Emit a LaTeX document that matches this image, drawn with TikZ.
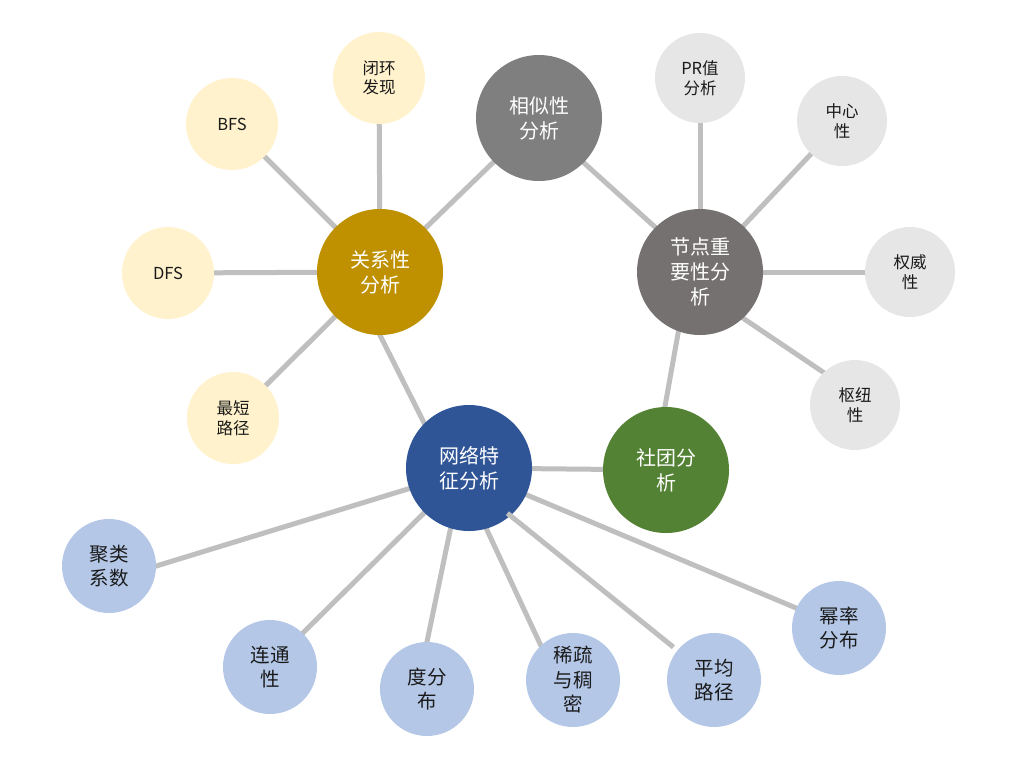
\documentclass[tikz,border=0pt]{standalone}
\usepackage{fontspec}
\setmainfont{Noto Sans CJK SC}
\usetikzlibrary{calc}
\pgfdeclarelayer{background}
\pgfsetlayers{background,main}
\definecolor{cyellow}{HTML}{FFF2CC}
\definecolor{cgold}{HTML}{BF9000}
\definecolor{cgrey}{HTML}{7F7F7F}
\definecolor{cwarm}{HTML}{767171}
\definecolor{clgrey}{HTML}{E7E6E6}
\definecolor{cgreen}{HTML}{548235}
\definecolor{cblue}{HTML}{2F5597}
\definecolor{clblue}{HTML}{B4C7E7}
\definecolor{cedge}{HTML}{BFBFBF}
\definecolor{ctext}{HTML}{1A1A1A}
\tikzset{
  ball/.style={circle, inner sep=0pt, align=center},
  hub/.style={ball, minimum size=126pt, text=white, font=\fontsize{20}{25}\selectfont},
  yleaf/.style={ball, minimum size=92pt, fill=cyellow, text=ctext, font=\fontsize{16.5}{19.5}\selectfont},
  gleaf/.style={ball, minimum size=90pt, fill=clgrey, text=ctext, font=\fontsize{16.5}{19.5}\selectfont},
  bleaf/.style={ball, minimum size=94pt, fill=clblue, text=ctext, font=\fontsize{19.5}{24.5}\selectfont},
  edge/.style={draw=cedge, line width=5pt, shorten <=-2pt, shorten >=-2pt}
}
\begin{document}
\begin{tikzpicture}[x=1pt,y=-1pt]
\useasboundingbox (0,0) rectangle (1016,756);
% hubs
\node[hub, fill=cgrey] (sim) at (539,118) {相似性\\分析};
\node[hub, fill=cgold] (rel) at (380,272) {关系性\\分析};
\node[hub, fill=cwarm] (imp) at (700,272) {节点重\\要性分\\析};
\node[hub, fill=cgreen] (com) at (666,470) {社团分\\析};
\node[hub, fill=cblue] (net) at (469,468) {网络特\\征分析};
% yellow leaves
\node[yleaf] (loop) at (379,78) {闭环\\发现};
\node[yleaf] (bfs) at (232,124) {BFS};
\node[yleaf] (dfs) at (168,273) {DFS};
\node[yleaf] (sp) at (233,418) {最短\\路径};
% grey leaves
\node[gleaf] (pr) at (700,78) {PR值\\分析};
\node[gleaf] (cen) at (842,121) {中心\\性};
\node[gleaf] (aut) at (910,272) {权威\\性};
\node[gleaf] (hb) at (855,405) {枢纽\\性};
% blue leaves
\node[bleaf] (clu) at (109,566) {聚类\\系数};
\node[bleaf] (con) at (270,667) {连通\\性};
\node[bleaf] (deg) at (427,689) {度分\\布};
\node[bleaf] (spa) at (573,680) {稀疏\\与稠\\密};
\node[bleaf] (avg) at (714,680) {平均\\路径};
\node[bleaf] (pow) at (839,628) {幂率\\分布};
% edges
\begin{pgfonlayer}{background}
\draw[edge] (rel) -- (loop);
\draw[edge] (rel) -- (bfs);
\draw[edge] (rel) -- (dfs);
\draw[edge] (rel) -- (sp);
\draw[edge] (rel) -- (sim);
\draw[edge] (rel.-90) -- (net.135);
\draw[edge] (sim.-45) -- (imp.135);
\draw[edge] (imp) -- (pr);
\draw[edge] (imp) -- (cen);
\draw[edge] (imp) -- (aut);
\draw[edge] (imp.-47) -- (hb.134);
\draw[edge] (imp.-110) -- (com.91);
\draw[edge] (net) -- (com);
\draw[edge] (clu.0) -- (net.199);
\draw[edge] (con.46) -- (net.225);
\draw[edge] (deg.90) -- (net.253);
\draw[edge] (net.286) -- (spa.133);
\draw[edge] (net.-25) -- (pow.155);
\end{pgfonlayer}
\draw[draw=cedge, line width=5pt, shorten <=-4pt, shorten >=5pt] (net.-49) -- (avg.141);
\end{tikzpicture}
\end{document}
